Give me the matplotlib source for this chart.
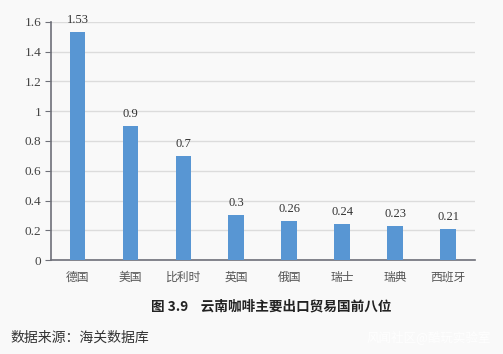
import matplotlib.pyplot as plt

countries = ["德国", "美国", "比利时", "英国", "俄国", "瑞士", "瑞典", "西班牙"]
values = [1.53, 0.9, 0.7, 0.3, 0.26, 0.24, 0.23, 0.21]
value_labels = ["1.53", "0.9", "0.7", "0.3", "0.26", "0.24", "0.23", "0.21"]
yticks = [0, 0.2, 0.4, 0.6, 0.8, 1.0, 1.2, 1.4, 1.6]
ytick_labels = ["0", "0.2", "0.4", "0.6", "0.8", "1", "1.2", "1.4", "1.6"]

bg = "#f9f9f9"
cjk = ["Noto Sans CJK SC", "DejaVu Sans"]
serif = ["Liberation Serif", "DejaVu Serif"]

fig = plt.figure(figsize=(5.03, 3.54), dpi=100, facecolor=bg)
ax = fig.add_axes([0.1014, 0.2655, 0.8426, 0.6724], facecolor=bg)

x = range(len(countries))
ax.bar(x, values, width=0.3, color="#5896d3", zorder=3)
for xi, v, lab in zip(x, values, value_labels):
    ax.text(xi, v + 0.04, lab, ha="center", va="bottom", fontsize=9,
            family=serif, color="#333333")

ax.set_xlim(-0.5, len(countries) - 0.5)
ax.set_ylim(0, 1.6)
ax.set_yticks(yticks)
ax.set_yticklabels(ytick_labels, family=serif, fontsize=9.5, color="#444444")
ax.set_xticks(list(x))
ax.set_xticklabels(countries, family=cjk, fontsize=8.5, color="#555555")
ax.tick_params(axis="x", length=0, pad=8)
ax.tick_params(axis="y", length=4, color="#6e7079", pad=3)

ax.grid(axis="y", color="#dcdcdc", linewidth=1, zorder=0)
for side in ["top", "right"]:
    ax.spines[side].set_visible(False)
ax.spines["left"].set_color("#6e7079")
ax.spines["bottom"].set_color("#6e7079")
ax.spines["left"].set_linewidth(1.2)
ax.spines["bottom"].set_linewidth(1.2)

fig.text(0.54, 0.133, "图 3.9    云南咖啡主要出口贸易国前八位", ha="center", va="center",
         family=cjk, fontsize=9.8, fontweight="bold", color="#222222")
fig.text(0.02, 0.045, "数据来源：海关数据库", ha="left", va="center",
         family=cjk, fontsize=10, color="#333333")
fig.text(0.975, 0.045, "风闻社区@酷玩实验室", ha="right", va="center",
         family=cjk, fontsize=9, color="#ffffff", alpha=0.9)

fig.savefig("out.png", dpi=100, facecolor=bg)
